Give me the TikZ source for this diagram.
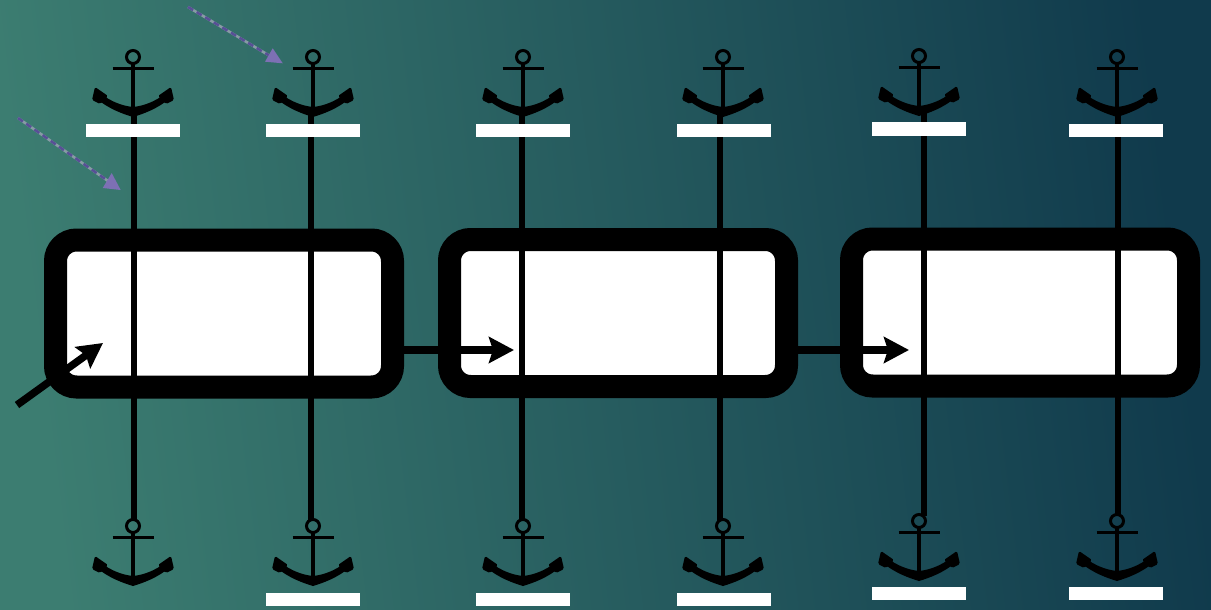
\documentclass[tikz,border=0pt]{standalone}
\usepackage{tikz}
\usetikzlibrary{arrows.meta,calc}
\definecolor{bgL}{RGB}{60,125,113}
\definecolor{bgR}{RGB}{16,58,76}
\definecolor{figP}{RGB}{125,112,180}
\definecolor{figD}{RGB}{88,80,150}
\definecolor{figG}{RGB}{135,155,165}
\tikzset{
  anchorpic/.pic={
    \draw[line width=3pt] (0,0) circle (6.5);
    \draw[line width=3.4pt] (-20.5,11.5)--(20.5,11.5);
    \draw[line width=4.4pt] (0,6)--(0,58);
    \fill (-33,36) .. controls (-22,45) and (-10,49) .. (0,50) .. controls (10,49) and (22,45) .. (33,36)
      -- (36,42) .. controls (24,52) and (10,57) .. (0,60) .. controls (-10,57) and (-24,52) .. (-36,42) -- cycle;
    \fill[rounded corners=1.5pt] (-38,30) -- (-25,39) -- (-33,47) -- (-41,43) -- cycle;
    \fill[rounded corners=1.5pt] (38,30) -- (25,39) -- (33,47) -- (41,43) -- cycle;
  },
  cellbox/.style={draw=black,fill=white,line width=23pt,rounded corners=21pt,minimum width=337pt,minimum height=147pt,inner sep=0pt},
  tagbox/.style={fill=white,minimum width=94pt,minimum height=13.5pt,inner sep=0pt},
  wire/.style={line width=5.4pt},
  link/.style={line width=7.5pt,-{Stealth[length=25pt,width=26pt,inset=4pt]}},
  hintbase/.style={line width=2.6pt,figG},
  hintline/.style={line width=2.6pt,dash pattern=on 6pt off 4pt,figD},
  hinthead/.style={fill=figP}
}
\begin{document}
\begin{tikzpicture}[x=1pt,y=-1pt]
\useasboundingbox (0,0) rectangle (1211,610);
\shade[left color=bgL,right color=bgR,shading angle=97] (0,0) rectangle (1211,610);
% ---------- cells ----------
\node[cellbox] (cellA) at (224,313.5) {};
\node[cellbox] (cellB) at (618,313) {};
\node[cellbox] (cellC) at (1020,312.5) {};
% ---------- wires, anchors ----------
\foreach \n/\wx/\ax/\ty/\by in {1/134/133/57/526,2/311/313/57/526,3/522/523/57/526,4/720/723/57/526,5/924/919/56/521,6/1118/1117/57/521}{
  \pic at (\ax,\ty) {anchorpic};
  \pic at (\ax,\by) {anchorpic};
  \coordinate (wT\n) at (\wx,\ty+56);
  \coordinate (wB\n) at (\wx,\by-5);
  \draw[wire] (wT\n)--(wB\n);
}
% ---------- tags ----------
\node[tagbox] (tagT1) at (133,130.5) {};
\node[tagbox] (tagT2) at (312.5,130.5) {};
\node[tagbox] (tagT3) at (523,130.5) {};
\node[tagbox] (tagT4) at (724,130.5) {};
\node[tagbox] (tagT5) at (919,129) {};
\node[tagbox] (tagT6) at (1116,130.5) {};
\node[tagbox] (tagB2) at (312.5,599.5) {};
\node[tagbox] (tagB3) at (523,599.5) {};
\node[tagbox] (tagB4) at (724,599.5) {};
\node[tagbox] (tagB5) at (919,593.5) {};
\node[tagbox] (tagB6) at (1116,593.5) {};
% ---------- arrows ----------
\coordinate (entry) at (17,405);
\coordinate (headA) at (103,343);
\coordinate (headB) at (514,350);
\coordinate (headC) at (909,350);
\draw[link] (entry)--(headA);
\draw[link] (cellA.east |- headB)--(headB);
\draw[link] (cellB.east |- headC)--(headC);
% ---------- hints ----------
\coordinate (hintA) at (18,118);
\coordinate (hintB) at (188,7);
\draw[hintbase] (hintA)--(108,181);
\draw[hintline] (hintA)--(108,181);
\fill[hinthead] (111.7,173)--(102.7,188)--(120.7,190)--cycle;
\draw[hintbase] (hintB)--(270,56);
\draw[hintline] (hintB)--(270,56);
\fill[hinthead] (272.7,48.3)--(265,61.7)--(282.7,63.3)--cycle;
\end{tikzpicture}
\end{document}
